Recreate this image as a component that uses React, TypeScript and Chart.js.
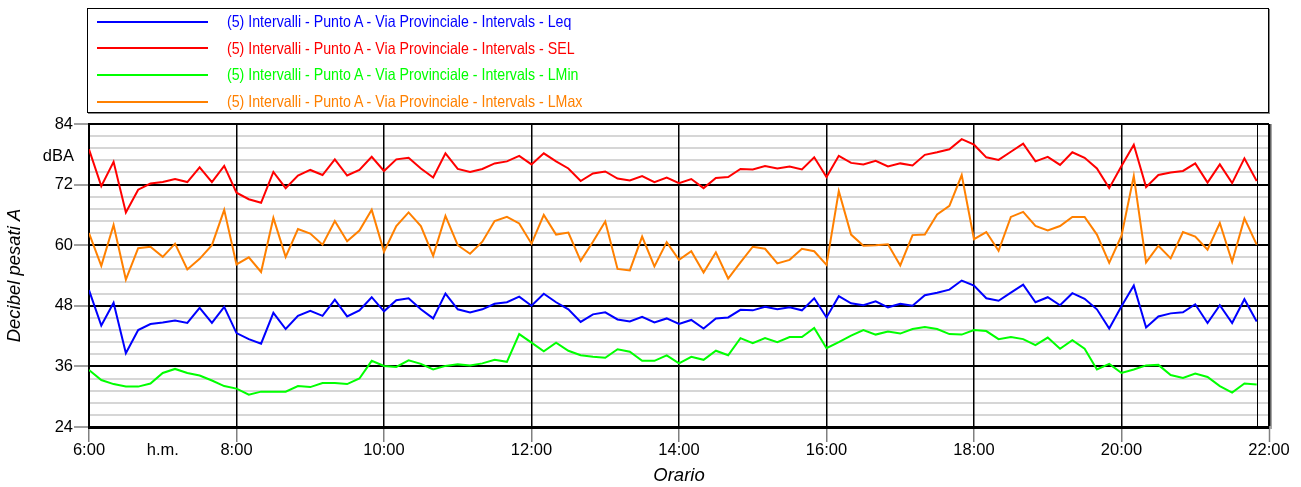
import React, { useEffect, useRef } from "react";
import { Chart, registerables } from "chart.js";

Chart.register(...registerables);

const FONT = "'Liberation Sans', Arial, Helvetica, sans-serif";

const times = [
  "6:00","6:10","6:20","6:30","6:40","6:50","7:00","7:10","7:20","7:30","7:40","7:50",
  "8:00","8:10","8:20","8:30","8:40","8:50","9:00","9:10","9:20","9:30","9:40","9:50",
  "10:00","10:10","10:20","10:30","10:40","10:50","11:00","11:10","11:20","11:30","11:40","11:50",
  "12:00","12:10","12:20","12:30","12:40","12:50","13:00","13:10","13:20","13:30","13:40","13:50",
  "14:00","14:10","14:20","14:30","14:40","14:50","15:00","15:10","15:20","15:30","15:40","15:50",
  "16:00","16:10","16:20","16:30","16:40","16:50","17:00","17:10","17:20","17:30","17:40","17:50",
  "18:00","18:10","18:20","18:30","18:40","18:50","19:00","19:10","19:20","19:30","19:40","19:50",
  "20:00","20:10","20:20","20:30","20:40","20:50","21:00","21:10","21:20","21:30","21:40","21:50",
];

const leq = [
  51.1,44.1,48.6,38.6,43.2,44.4,44.7,45.1,44.6,47.6,44.6,47.8,
  42.6,41.4,40.5,46.6,43.4,46.0,47.0,46.0,49.2,45.9,47.1,49.7,
  46.9,49.1,49.5,47.3,45.5,50.4,47.3,46.7,47.3,48.4,48.7,49.8,
  48.0,50.4,48.7,47.3,44.8,46.3,46.7,45.3,44.9,45.8,44.7,45.5,
  44.4,45.2,43.5,45.5,45.7,47.2,47.1,47.8,47.3,47.7,47.1,49.5,
  45.7,49.9,48.5,48.1,48.9,47.7,48.4,48.0,50.1,50.6,51.2,53.0,
  52.0,49.5,49.0,50.6,52.2,48.7,49.7,48.1,50.5,49.4,47.3,43.5,
  47.9,52.0,43.7,45.9,46.5,46.7,48.3,44.6,48.1,44.6,49.3,44.9,
];

const sel = [
  79.0,71.7,76.5,66.5,71.0,72.2,72.5,73.1,72.5,75.4,72.5,75.7,
  70.4,69.1,68.4,74.5,71.3,73.8,74.9,73.9,77.0,73.8,74.9,77.5,
  74.7,77.0,77.3,75.2,73.4,78.2,75.1,74.5,75.1,76.2,76.6,77.7,
  76.0,78.2,76.6,75.2,72.7,74.2,74.6,73.2,72.8,73.7,72.5,73.4,
  72.3,73.1,71.3,73.3,73.5,75.1,75.0,75.7,75.2,75.6,75.0,77.4,
  73.5,77.7,76.3,76.0,76.7,75.6,76.2,75.8,77.9,78.4,79.0,81.0,
  79.9,77.4,76.9,78.5,80.1,76.6,77.5,75.9,78.4,77.3,75.2,71.3,
  75.7,79.9,71.5,73.9,74.4,74.7,76.2,72.4,76.0,72.3,77.2,72.7,
];

const lmin = [
  35.3,33.3,32.5,32.0,32.0,32.6,34.7,35.5,34.7,34.2,33.2,32.1,
  31.6,30.4,31.0,31.0,31.0,32.1,31.9,32.7,32.7,32.5,33.6,37.1,
  36.1,35.9,37.2,36.5,35.4,36.1,36.4,36.2,36.6,37.3,36.9,42.4,
  40.7,39.0,40.7,39.1,38.2,37.9,37.7,39.4,38.9,37.1,37.1,38.2,
  36.6,37.9,37.3,39.1,38.2,41.6,40.6,41.6,40.8,41.8,41.8,43.6,
  39.6,40.8,42.1,43.2,42.3,42.9,42.5,43.4,43.8,43.4,42.4,42.3,
  43.2,43.0,41.4,41.8,41.4,40.2,41.7,39.5,41.2,39.5,35.4,36.5,
  34.7,35.4,36.2,36.3,34.3,33.7,34.6,33.9,32.1,30.8,32.6,32.4,
];

const lmax = [
  62.4,55.9,64.0,53.2,59.4,59.7,57.7,60.3,55.2,57.3,60.0,67.0,
  56.2,57.6,54.7,65.4,57.7,63.2,62.3,60.1,64.8,60.8,62.9,67.0,
  58.7,63.8,66.5,63.8,57.9,65.8,60.0,58.3,60.7,64.8,65.6,64.3,
  60.3,66.0,62.1,62.5,56.9,60.7,64.7,55.3,55.0,61.7,55.8,60.6,
  57.1,58.8,54.6,58.6,53.4,56.6,59.7,59.3,56.4,57.1,59.3,58.8,
  56.1,70.7,62.1,59.9,60.0,60.2,56.0,62.0,62.1,66.1,67.8,73.9,
  61.2,62.6,58.9,65.6,66.6,63.8,62.9,63.8,65.6,65.6,62.1,56.5,
  61.9,73.7,56.6,59.9,57.4,62.6,61.7,59.1,64.4,56.7,65.3,60.1,
];

const seriesLabels = [
  "(5) Intervalli - Punto A - Via Provinciale - Intervals - Leq",
  "(5) Intervalli - Punto A - Via Provinciale - Intervals - SEL",
  "(5) Intervalli - Punto A - Via Provinciale - Intervals - LMin",
  "(5) Intervalli - Punto A - Via Provinciale - Intervals - LMax",
];
const seriesValues = [leq, sel, lmin, lmax];
const seriesColors = ["#0000ff", "#ff0000", "#00ff00", "#ff8000"];

const xTickLabels = [
  "6:00","h.m.","8:00","","10:00","","12:00","","14:00","","16:00","","18:00","","20:00","","22:00",
];
const yUnitLabel = "dBA";
const yTitle = "Decibel pesati A";
const xTitle = "Orario";

const toHours = (t: string) => {
  const [h, m] = t.split(":").map(Number);
  return h + m / 60;
};
const isMajorY = (v: number) => Math.abs(v / 12 - Math.round(v / 12)) < 1e-6;
const isEvenHour = (v: number) => Math.abs(v / 2 - Math.round(v / 2)) < 1e-6;

const decorPlugin = {
  id: "decor",
  beforeDatasetsDraw(chart: any) {
    const { ctx, chartArea, scales } = chart;
    const xl = scales.x.getPixelForValue(toHours(times[times.length - 1]));
    ctx.save();
    ctx.strokeStyle = "#000";
    ctx.lineWidth = 1;
    ctx.beginPath();
    ctx.moveTo(Math.round(xl) + 0.5, chartArea.top);
    ctx.lineTo(Math.round(xl) + 0.5, chartArea.bottom);
    ctx.stroke();
    ctx.restore();
  },
  afterDraw(chart: any) {
    const { ctx, chartArea } = chart;
    ctx.save();
    ctx.fillStyle = "#000";
    ctx.font = `16.5px ${FONT}`;
    ctx.textAlign = "right";
    ctx.textBaseline = "middle";
    ctx.fillText(yUnitLabel, chartArea.left - 15, chartArea.top + 32);
    ctx.strokeStyle = "#888";
    ctx.lineWidth = 1.5;
    ctx.beginPath();
    ctx.moveTo(chartArea.right + 2, chartArea.top);
    ctx.lineTo(chartArea.right + 2, chartArea.bottom + 2);
    ctx.stroke();
    ctx.restore();
  },
};

export default function App() {
  const ref = useRef<HTMLCanvasElement | null>(null);

  useEffect(() => {
    if (!ref.current) return;
    const chart = new Chart(ref.current, {
      type: "line",
      data: {
        datasets: seriesValues.map((vals, k) => ({
          label: seriesLabels[k],
          data: vals.map((v, i) => ({ x: toHours(times[i]), y: v })),
          borderColor: seriesColors[k],
          backgroundColor: seriesColors[k],
          borderWidth: 2,
          pointRadius: 0,
          fill: false,
          tension: 0,
        })),
      },
      options: {
        animation: false,
        responsive: false,
        devicePixelRatio: 1,
        layout: { padding: { left: 0, right: 32, top: 124, bottom: 0 } },
        plugins: { legend: { display: false }, tooltip: { enabled: false } },
        scales: {
          x: {
            type: "linear",
            min: 6,
            max: 22,
            afterFit: (s: any) => {
              s.height = 60;
            },
            ticks: {
              stepSize: 1,
              autoSkip: false,
              maxRotation: 0,
              padding: -1,
              color: "#000",
              font: { family: FONT, size: 16.5 },
              callback: (v: any) => xTickLabels[Math.round(Number(v)) - 6] ?? "",
            },
            grid: {
              z: -1,
              color: (c: any) => (isEvenHour(c.tick.value) ? "#000" : "rgba(0,0,0,0)"),
              lineWidth: (c: any) => (c.tick.value >= 22 ? 3 : 1.5),
              tickColor: (c: any) => (isEvenHour(c.tick.value) ? "#808080" : "rgba(0,0,0,0)"),
              tickLength: 15,
              tickWidth: 1.5,
            },
            border: { display: true, color: "#000", width: 3 },
            title: {
              display: true,
              text: xTitle,
              color: "#000",
              font: { family: FONT, size: 18.5, style: "italic" },
              padding: { top: 0, bottom: 0 },
            },
          },
          y: {
            type: "linear",
            min: 24,
            max: 84,
            afterFit: (s: any) => {
              s.width = 89;
            },
            ticks: {
              stepSize: 2.4,
              maxTicksLimit: 100,
              autoSkip: false,
              padding: 1,
              color: "#000",
              font: { family: FONT, size: 16.5 },
              callback: (v: any) => (isMajorY(Number(v)) ? String(Math.round(Number(v))) : ""),
            },
            grid: {
              z: -2,
              color: (c: any) => (isMajorY(c.tick.value) ? "#000" : "#d6d6d6"),
              lineWidth: 2,
              tickColor: (c: any) => (isMajorY(c.tick.value) ? "#808080" : "rgba(0,0,0,0)"),
              tickLength: 15,
              tickWidth: 1.5,
            },
            border: { display: true, color: "#000", width: 2 },
            title: {
              display: true,
              text: yTitle,
              color: "#000",
              font: { family: FONT, size: 18.5, style: "italic" },
              padding: { top: 4, bottom: 0 },
            },
          },
        },
      },
      plugins: [decorPlugin],
    } as any);
    return () => chart.destroy();
  }, []);

  const rowCenters = [21.7, 48.3, 75, 101.7];

  return (
    <div
      style={{
        position: "fixed",
        left: 0,
        top: 0,
        width: 1301,
        height: 487,
        background: "#fff",
        overflow: "hidden",
      }}
    >
      <canvas ref={ref} width={1301} height={487} style={{ position: "absolute", left: 0, top: 0, width: 1301, height: 487 }} />
      <div
        style={{
          position: "absolute",
          left: 87,
          top: 8,
          width: 1182,
          height: 105,
          boxSizing: "border-box",
          border: "1px solid #000",
          boxShadow: "1px 1px 0 #888",
          background: "#fff",
        }}
      />
      {seriesLabels.map((lab, k) => (
        <React.Fragment key={k}>
          <div
            style={{
              position: "absolute",
              left: 97,
              top: rowCenters[k] - 1,
              width: 111,
              height: 2,
              background: seriesColors[k],
            }}
          />
          <div
            style={{
              position: "absolute",
              left: 227,
              top: rowCenters[k] - 1 - 8.8,
              fontFamily: FONT,
              fontSize: 16.5,
              lineHeight: "18px",
              color: seriesColors[k],
              whiteSpace: "nowrap",
              transform: "scaleX(0.86)",
              transformOrigin: "left center",
            }}
          >
            {lab}
          </div>
        </React.Fragment>
      ))}
    </div>
  );
}
